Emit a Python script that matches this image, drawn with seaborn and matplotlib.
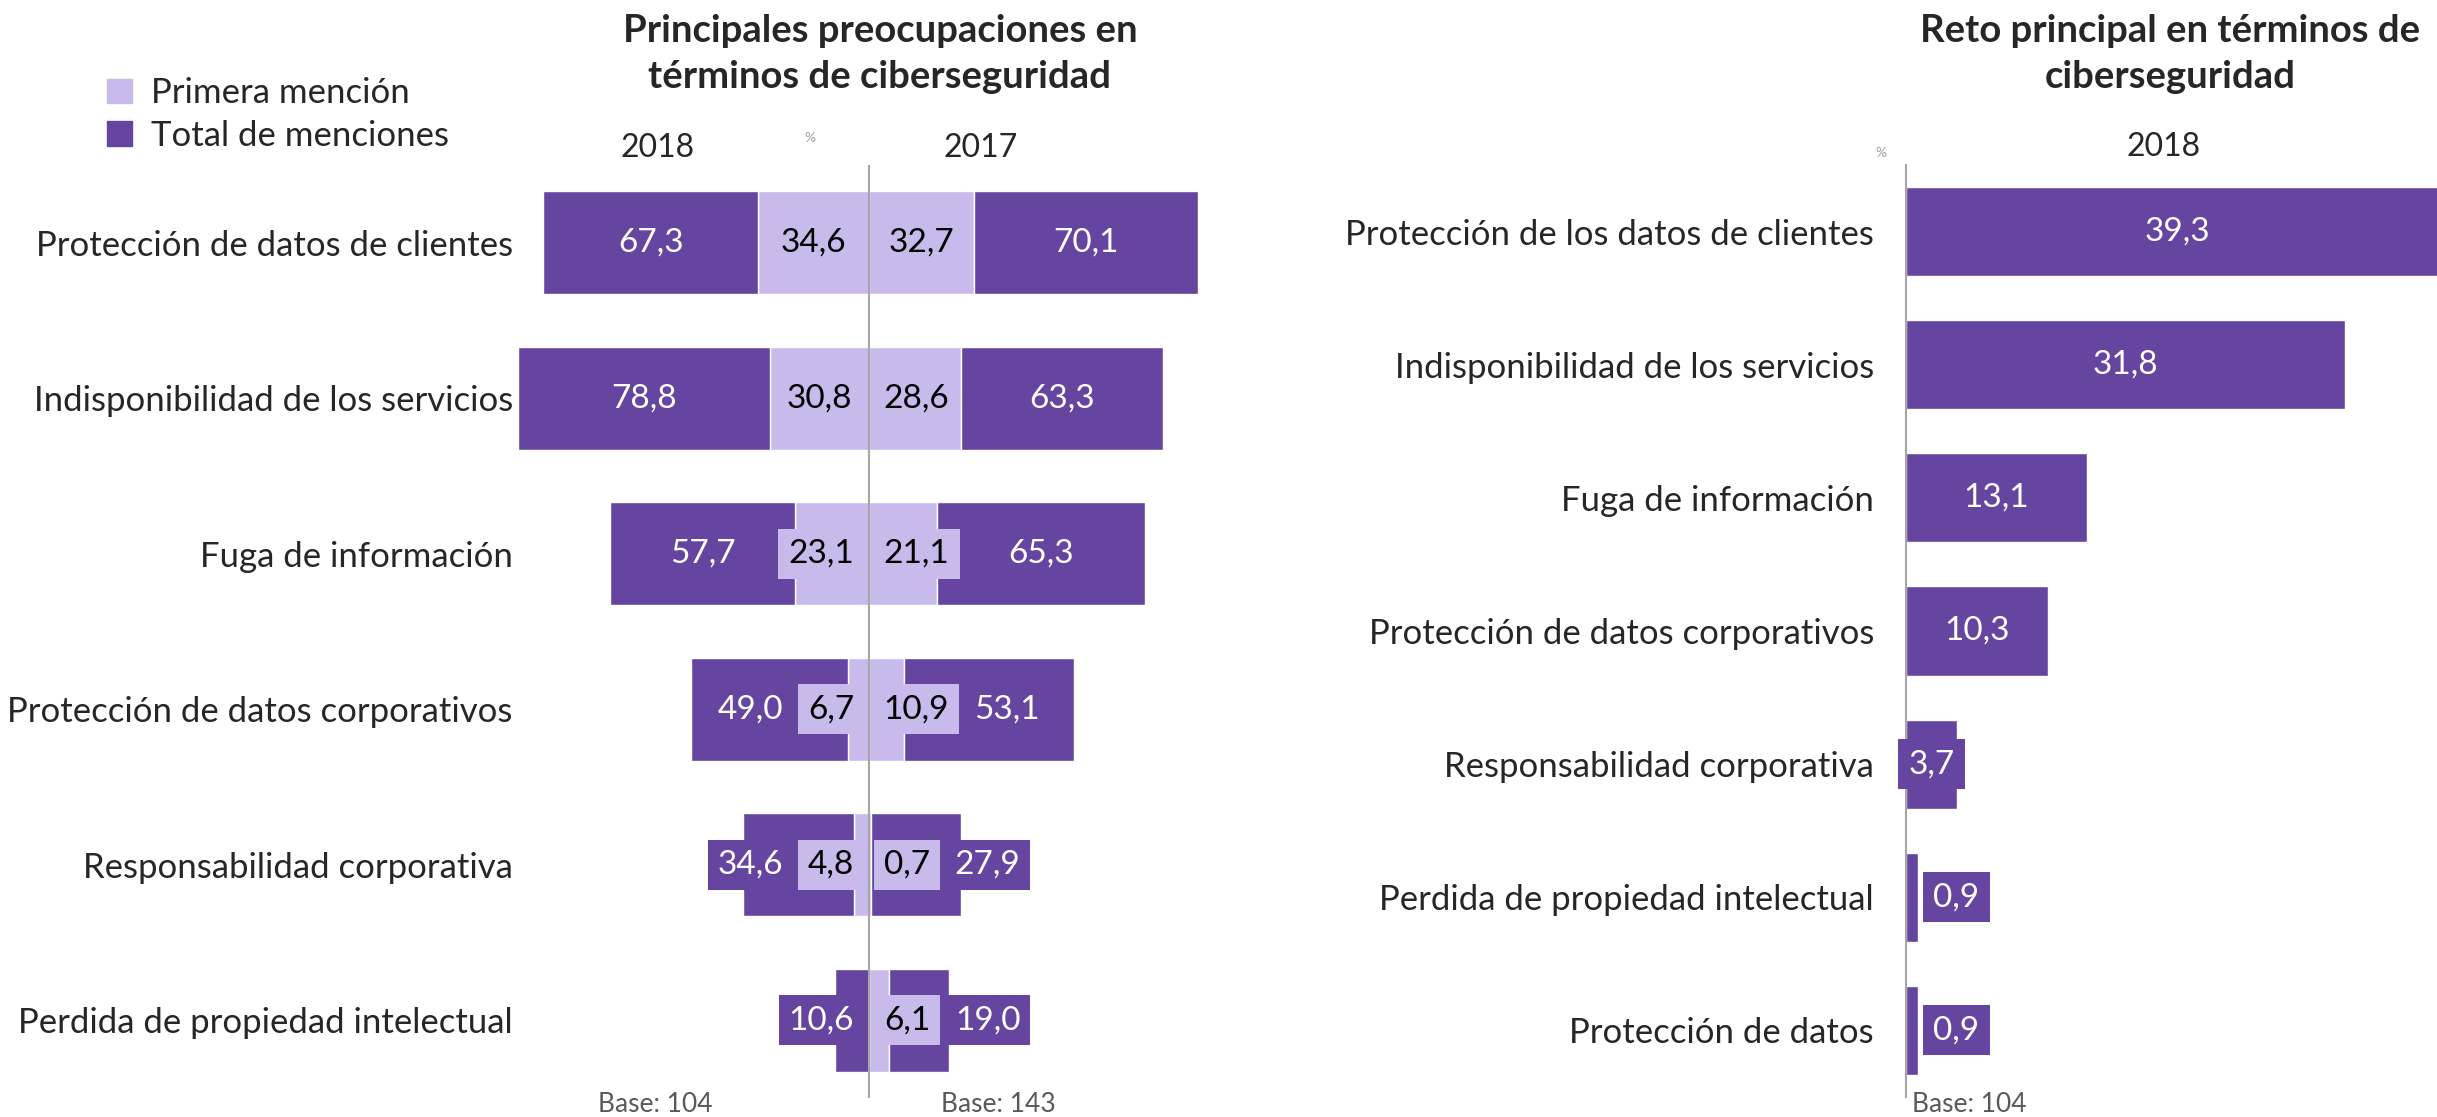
import numpy as np
import pandas as pd
import matplotlib
matplotlib.use('Agg')
import matplotlib.pyplot as plt
from matplotlib.patches import Patch
import seaborn as sns

# --- Data ---
concerns = ['Protección de datos de clientes', 'Indisponibilidad de los servicios',
            'Fuga de información', 'Protección de datos corporativos',
            'Responsabilidad corporativa', 'Perdida de propiedad intelectual']
first_2018 = [34.6, 30.8, 23.1, 6.7, 4.8, 0.0]
total_2018 = [67.3, 78.8, 57.7, 49.0, 34.6, 10.6]
first_2017 = [32.7, 28.6, 21.1, 10.9, 0.7, 6.1]
total_2017 = [70.1, 63.3, 65.3, 53.1, 27.9, 19.0]

challenges = ['Protección de los datos de clientes', 'Indisponibilidad de los servicios',
              'Fuga de información', 'Protección de datos corporativos',
              'Responsabilidad corporativa', 'Perdida de propiedad intelectual',
              'Protección de datos']
challenge_2018 = [39.3, 31.8, 13.1, 10.3, 3.7, 0.9, 0.9]

DARK = '#6645a1'
LIGHT = '#c8bbec'
TXT = '#262626'
GREY_LINE = '#a6a6a6'

sns.set_theme(style='white')
plt.rcParams['font.family'] = ['Lato', 'DejaVu Sans']

W, H = 2437, 1117
fig = plt.figure(figsize=(W / 100, H / 100), dpi=100)


def px_rect(x0, y_top, x1, y_bot):
    return [x0 / W, 1 - y_bot / H, (x1 - x0) / W, (y_bot - y_top) / H]


def fmt(v):
    return f'{v:.1f}'.replace('.', ',')


ax1 = fig.add_axes(px_rect(517, 165, 1221, 1098))
ax2 = fig.add_axes(px_rect(1906, 165, 2437, 1097))

# --- Left chart: diverging stacked bars ---
y = np.arange(len(concerns))
BAR_H = 0.66
ax1.barh(y, -np.array(first_2018), height=BAR_H, color=LIGHT, zorder=1)
ax1.barh(y, -np.array(total_2018), left=-np.array(first_2018), height=BAR_H, color=DARK, zorder=1)
ax1.barh(y, first_2017, height=BAR_H, color=LIGHT, zorder=1)
ax1.barh(y, total_2017, left=first_2017, height=BAR_H, color=DARK, zorder=1)
ax1.axvline(0, color=GREY_LINE, lw=1.5, zorder=2)
ax1.set_xlim(-110, 110)
ax1.set_ylim(len(concerns) - 0.5, -0.5)
ax1.set_yticks(y, concerns)
ax1.set_xticks([])
ax1.tick_params(axis='y', length=0, pad=3, labelsize=25, labelcolor=TXT)
sns.despine(ax=ax1, left=True, bottom=True)

# --- Right chart ---
sns.barplot(x=challenge_2018, y=challenges, orient='h', color=DARK, saturation=1,
            width=0.67, ax=ax2, zorder=1)
ax2.set_xlim(0, 38.5)
ax2.set_ylim(len(challenges) - 0.5, -0.5)
ax2.set_xticks([])
ax2.set_xlabel('')
ax2.set_ylabel('')
ax2.tick_params(axis='y', length=0, pad=23, labelsize=25, labelcolor=TXT)
sns.despine(ax=ax2, left=False, bottom=True)
ax2.spines['left'].set_color(GREY_LINE)
ax2.spines['left'].set_linewidth(1.5)

# --- Data labels ---
fig.canvas.draw()
renderer = fig.canvas.get_renderer()
LABEL_FS = 24
BOX_PAD = 0.3


def ppu(ax):
    return ax.transData.transform((1, 0))[0] - ax.transData.transform((0, 0))[0]


def half_width(ax, s):
    t = ax.text(0, 0, s, fontsize=LABEL_FS)
    w = t.get_window_extent(renderer).width
    t.remove()
    pad_px = BOX_PAD * LABEL_FS * 100 / 72
    return (w / 2 + pad_px) / ppu(ax)


# left chart: push labels outward so the boxes do not overlap
for i in range(len(concerns)):
    for side, firsts, totals in [(-1, first_2018, total_2018), (1, first_2017, total_2017)]:
        start = 0.0
        prev_end = 1.5
        for v, fc, tc in [(firsts[i], LIGHT, 'black'), (totals[i], DARK, 'white')]:
            if v > 0:
                s = fmt(v)
                h = half_width(ax1, s)
                c = max(start + v / 2, prev_end + h)
                ax1.text(side * c, i, s, ha='center', va='center', fontsize=LABEL_FS,
                         color=tc, zorder=3,
                         bbox=dict(boxstyle=f'square,pad={BOX_PAD}', fc=fc, ec='none'))
                prev_end = c + h + 1.5
            start += v

# right chart: centred when it fits, else outside end
for i, v in enumerate(challenge_2018):
    s = fmt(v)
    h = half_width(ax2, s)
    if v > 2:
        c = v / 2
    else:
        c = v + 5 / ppu(ax2) + h
    ax2.text(c, i, s, ha='center', va='center', fontsize=LABEL_FS, color='white', zorder=3,
             bbox=dict(boxstyle=f'square,pad={BOX_PAD}', fc=DARK, ec='none'))

# --- Titles and annotations ---
fig.text(880 / W, 1 - 54 / H, 'Principales preocupaciones en\ntérminos de ciberseguridad',
         ha='center', va='center', fontsize=27.5, fontweight='bold', color=TXT, linespacing=1.45)
fig.text(2170 / W, 1 - 54 / H, 'Reto principal en términos de\nciberseguridad',
         ha='center', va='center', fontsize=27.5, fontweight='bold', color=TXT, linespacing=1.45)

fig.text(658 / W, 1 - 148 / H, '2018', ha='center', va='center', fontsize=23, color=TXT)
fig.text(981 / W, 1 - 148 / H, '2017', ha='center', va='center', fontsize=23, color=TXT)
fig.text(2164 / W, 1 - 147 / H, '2018', ha='center', va='center', fontsize=23, color=TXT)
fig.text(810 / W, 1 - 138 / H, '%', ha='center', va='center', fontsize=10, color='#a0a0a0')
fig.text(1881 / W, 1 - 153 / H, '%', ha='center', va='center', fontsize=10, color='#a0a0a0')

fig.text(598 / W, 1 - 1104 / H, 'Base: 104', ha='left', va='center', fontsize=19, color='#595959')
fig.text(941 / W, 1 - 1104 / H, 'Base: 143', ha='left', va='center', fontsize=19, color='#595959')
fig.text(1912 / W, 1 - 1104 / H, 'Base: 104', ha='left', va='center', fontsize=19, color='#595959')

handles = [Patch(color=LIGHT, label='Primera mención'), Patch(color=DARK, label='Total de menciones')]
fig.legend(handles=handles, loc='upper left', bbox_to_anchor=(76 / W, 1 - 46 / H),
           frameon=False, fontsize=25, handlelength=0.7, handleheight=0.7,
           handletextpad=0.55, labelspacing=0.3, labelcolor=TXT)

fig.savefig('out.png', dpi=100)
